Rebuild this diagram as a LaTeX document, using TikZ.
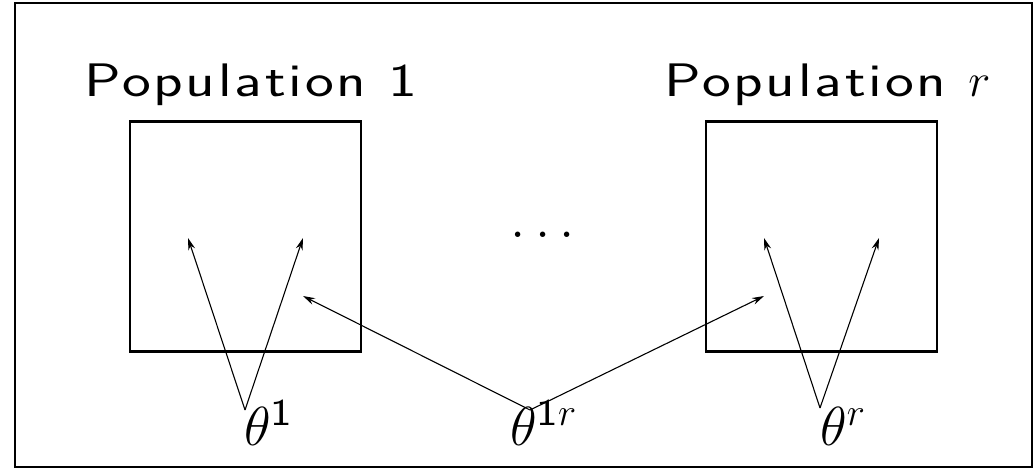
\RequirePackage{fix-cm}
\documentclass[tikz,border=0pt]{standalone}
\usepackage{fontspec}
\newfontfamily\slidefont{Latin Modern Sans}[FakeStretch=1.3, LetterSpace=6]
\newfontfamily\supfont{Latin Modern Sans}[FakeStretch=1.2]
\newcommand{\supone}{\hbox{\supfont\fontsize{38}{40}\selectfont 1}}
\usetikzlibrary{arrows.meta, positioning}

\begin{document}
\begin{tikzpicture}[
    x=1pt, y=-1pt,
    pop/.style={rectangle, draw, line width=2.8pt, minimum width=231pt, minimum height=230pt, inner sep=0pt},
    title/.style={anchor=base west, inner sep=0pt, font=\slidefont\fontsize{47}{50}\selectfont},
    param/.style={anchor=base west, inner sep=0pt, font=\fontsize{55}{60}\selectfont},
    link/.style={-{Stealth[length=12pt, width=7pt]}, line width=1.1pt}
]
\useasboundingbox (0,0) rectangle (1034,468);
\draw[line width=2.4pt] (15,3) rectangle (1032,467);

% populations
\node[pop] (pop1) at (245.5,236.5) {};
\node[pop] (popr) at (821.5,236.5) {};
\node[title] (lab1) at (84,97) {Population 1};
\node[title] (labr) at (664,97) {Population\ $r$};
\node[anchor=base, inner sep=0pt, font=\fontsize{56}{60}\selectfont] (dots) at (543,237) {$\ldots$};

% parameters
\node[param] (th1) at (244,445) {$\theta^{\supone}$};
\node[param] (th1r) at (510,445) {$\theta^{\supone r}$};
\node[param] (thr) at (820,445) {$\theta^r$};

\coordinate (s1) at (245,410);
\coordinate (s1r) at (530,410);
\coordinate (sr) at (820,408);
\coordinate (a1) at (188,238);
\coordinate (b1) at (303,238);
\coordinate (c1) at (303,296);
\coordinate (ar) at (764,238);
\coordinate (br) at (879,238);
\coordinate (cr) at (764,296);

\draw[link] (s1) -- (a1);
\draw[link] (s1) -- (b1);
\draw[link] (s1r) -- (c1);
\draw[link] (s1r) -- (cr);
\draw[link] (sr) -- (ar);
\draw[link] (sr) -- (br);

\end{tikzpicture}
\end{document}
